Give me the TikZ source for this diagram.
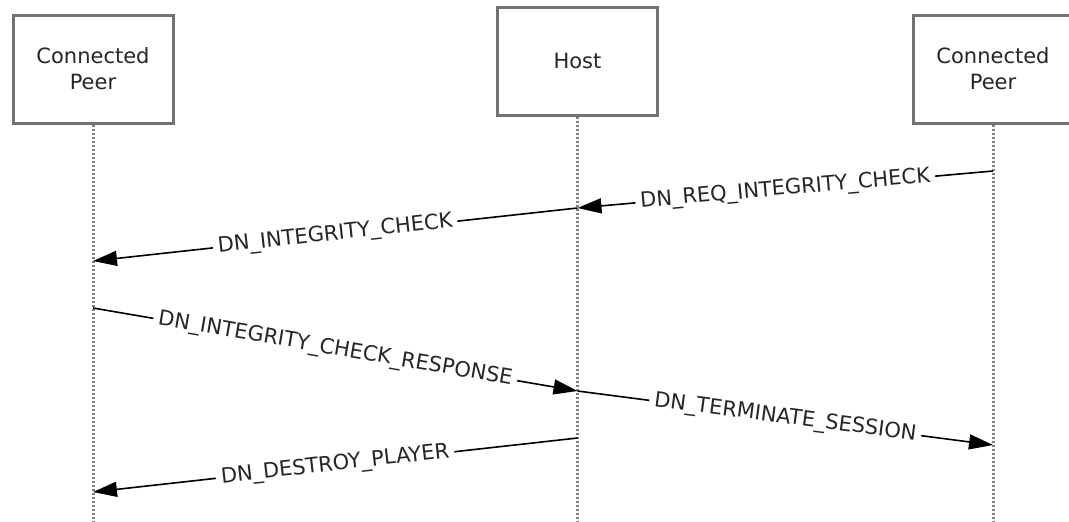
\documentclass[tikz,border=0pt]{standalone}
\usepackage{fontspec}
\setmainfont{DejaVu Sans}
\usetikzlibrary{arrows.meta}

\begin{document}
\begin{tikzpicture}[x=0.5pt,y=-0.5pt,>={Triangle[length=12pt,width=7.5pt]},
    every node/.style={font=\fontsize{10.5pt}{13pt}\selectfont, text=black!85},
    actor/.style={rectangle, draw=black!55, line width=1.5pt, fill=white, align=center, minimum width=80pt, minimum height=54pt},
    life/.style={draw=black!50, line width=1.5pt, dash pattern=on 1.1pt off 0.9pt},
    msg/.style={->, line width=0.8pt},
    lbl/.style={sloped, midway, fill=white, inner sep=2.5pt}]

    \useasboundingbox (0,0) rectangle (1069,521);
    \clip (0,0) rectangle (1069,521);

    % actors
    \draw (93,69) node[actor] (A) {Connected\\Peer};
    \draw (577.5,61) node[actor] (B) {Host};
    \draw (993,69) node[actor] (C) {Connected\\Peer};

    % lifelines
    \coordinate (A0) at (93,521);
    \coordinate (B0) at (577.5,521);
    \coordinate (C0) at (993,521);
    \draw[life] (A.south) -- (A0);
    \draw[life] (B.south) -- (B0);
    \draw[life] (C.south) -- (C0);

    % message ends
    \coordinate (c1) at (993,171);
    \coordinate (b1) at (577.5,208);
    \coordinate (a2) at (93,261);
    \coordinate (a3) at (93,308);
    \coordinate (b3) at (577.5,391);
    \coordinate (c4) at (993,445);
    \coordinate (b5) at (577.5,438);
    \coordinate (a5) at (93,492);

    % messages
    \draw[msg] (c1) -- node[lbl] {DN\_REQ\_INTEGRITY\_CHECK} (b1);
    \draw[msg] (b1) -- node[lbl] {DN\_INTEGRITY\_CHECK} (a2);
    \draw[msg] (a3) -- node[lbl] {DN\_INTEGRITY\_CHECK\_RESPONSE} (b3);
    \draw[msg] (b3) -- node[lbl] {DN\_TERMINATE\_SESSION} (c4);
    \draw[msg] (b5) -- node[lbl] {DN\_DESTROY\_PLAYER} (a5);

\end{tikzpicture}
\end{document}
